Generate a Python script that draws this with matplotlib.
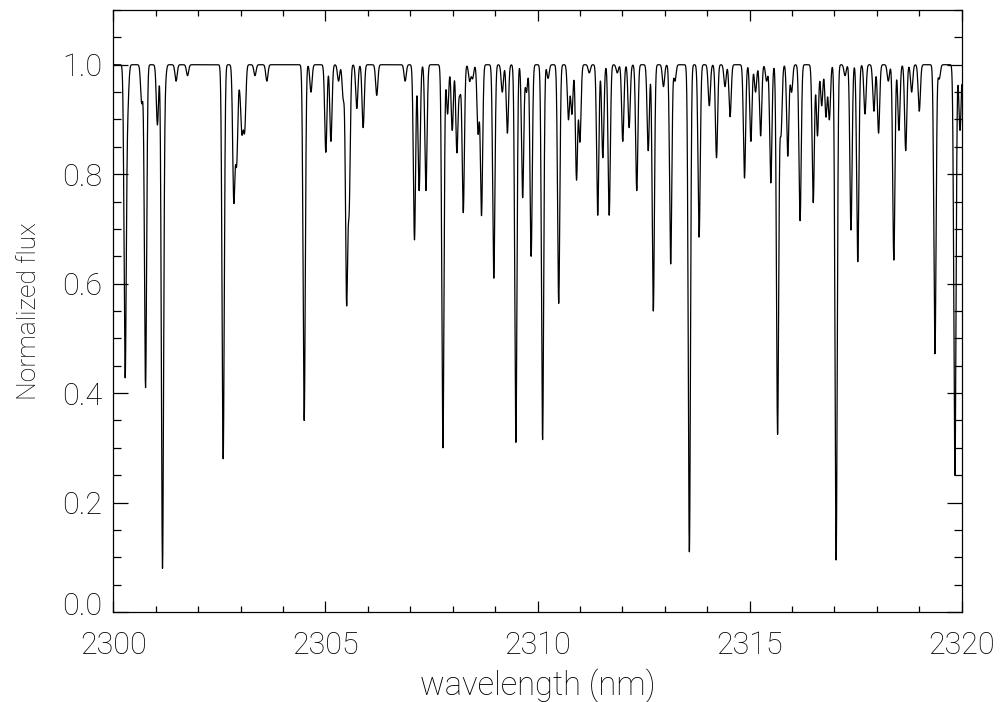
"""
Synthetic absorption spectrum, 2300-2320 nm, normalized flux
"""
import numpy as np
import matplotlib
matplotlib.use('Agg')
import matplotlib.pyplot as plt
from matplotlib.ticker import MultipleLocator
from matplotlib.transforms import ScaledTranslation

plt.rcParams['font.family'] = ['Roboto', 'DejaVu Sans']
plt.rcParams['font.weight'] = 'light'
plt.rcParams['axes.labelweight'] = 'light'

# line list: centre (nm) and flux at line core
line_center = [
    2300.28, 2300.34, 2300.67, 2300.76, 2301.04, 2301.16, 2301.22, 2301.48, 2301.75,
    2302.59, 2302.84, 2302.88, 2302.91, 2302.98, 2303.03, 2303.07, 2303.10, 2303.34,
    2303.62, 2304.50, 2304.66, 2305.01, 2305.13, 2305.31, 2305.42, 2305.50, 2305.56,
    2305.74, 2305.89, 2306.21, 2306.88, 2307.10, 2307.21, 2307.37, 2307.77, 2307.88,
    2307.99, 2308.10, 2308.17, 2308.25, 2308.40, 2308.47, 2308.60, 2308.68, 2308.97,
    2309.17, 2309.29, 2309.49, 2309.65, 2309.74, 2309.85, 2310.12, 2310.25, 2310.50,
    2310.73, 2310.81, 2310.92, 2311.00, 2311.22, 2311.42, 2311.54, 2311.69, 2311.88,
    2312.01, 2312.16, 2312.34, 2312.61, 2312.73, 2312.97, 2313.14, 2313.24, 2313.58,
    2313.81, 2314.05, 2314.22, 2314.42, 2314.54, 2314.88, 2315.03, 2315.14, 2315.26,
    2315.40, 2315.50, 2315.66, 2315.74, 2315.90, 2315.99, 2316.19, 2316.50, 2316.60,
    2316.70, 2316.80, 2316.88, 2317.04, 2317.25, 2317.39, 2317.55, 2317.72, 2317.93,
    2318.04, 2318.27, 2318.40, 2318.52, 2318.68, 2318.82, 2319.00, 2319.37, 2319.47,
    2319.84, 2319.96,
]
line_core = [
    0.43, 0.93, 0.93, 0.41, 0.89, 0.08, 0.97, 0.97, 0.98,
    0.28, 0.76, 0.96, 0.84, 0.97, 0.89, 0.96, 0.90, 0.98,
    0.97, 0.35, 0.95, 0.84, 0.86, 0.97, 0.94, 0.57, 0.75,
    0.92, 0.885, 0.944, 0.97, 0.68, 0.77, 0.77, 0.30, 0.91,
    0.88, 0.84, 0.95, 0.73, 0.97, 0.975, 0.875, 0.725, 0.61,
    0.95, 0.875, 0.31, 0.757, 0.95, 0.65, 0.315, 0.975, 0.564,
    0.90, 0.91, 0.79, 0.86, 0.985, 0.725, 0.83, 0.725, 0.985,
    0.86, 0.885, 0.77, 0.843, 0.55, 0.96, 0.636, 0.97, 0.11,
    0.685, 0.925, 0.83, 0.96, 0.905, 0.793, 0.86, 0.95, 0.87,
    0.97, 0.784, 0.325, 0.875, 0.833, 0.95, 0.715, 0.748, 0.87,
    0.925, 0.905, 0.90, 0.095, 0.98, 0.698, 0.64, 0.91, 0.915,
    0.875, 0.97, 0.643, 0.88, 0.843, 0.95, 0.915, 0.472, 0.974,
    0.25, 0.88,
]
line_sigma = 0.026  # nm, instrumental profile

wave = np.linspace(2300.0, 2320.0, 10001)
flux = np.ones_like(wave)
for c, f in zip(line_center, line_core):
    flux *= 1.0 - (1.0 - f) * np.exp(-0.5 * ((wave - c) / line_sigma) ** 2)

fig = plt.figure(figsize=(10.05, 7.02), dpi=100)
ax = fig.add_axes([113.3 / 1005, 90 / 702, 848.4 / 1005, 602 / 702])

ax.plot(wave, flux, color='black', linewidth=0.9)

ax.set_xlim(2300, 2320)
ax.set_ylim(0.0, 1.1)
ax.set_xticks([2300, 2305, 2310, 2315, 2320])
ax.set_yticks([0.0, 0.2, 0.4, 0.6, 0.8, 1.0])
ax.set_yticklabels(['0.0', '0.2', '0.4', '0.6', '0.8', '1.0'])
ax.xaxis.set_minor_locator(MultipleLocator(1))
ax.yaxis.set_minor_locator(MultipleLocator(0.05))

ax.tick_params(axis='both', which='both', direction='in', top=True, right=True,
               width=0.9, colors='black', labelsize=22)
ax.tick_params(axis='x', which='major', length=8, pad=14)
ax.tick_params(axis='x', which='minor', length=4)
ax.tick_params(axis='y', which='major', length=11, pad=8)
ax.tick_params(axis='y', which='minor', length=6)
for spine in ax.spines.values():
    spine.set_linewidth(0.9)

# lowest y label sits a little above its tick
lbl0 = ax.get_yticklabels()[0]
lbl0.set_transform(lbl0.get_transform() + ScaledTranslation(0, 6 / 72, fig.dpi_scale_trans))

ax.set_xlabel('wavelength (nm)', fontsize=23.5)
ax.set_ylabel('Normalized flux', fontsize=19)
ax.xaxis.set_label_coords(0.5, -0.095)
ax.yaxis.set_label_coords(-0.085, 0.5)

plt.savefig('out.png', dpi=100)
plt.close()
